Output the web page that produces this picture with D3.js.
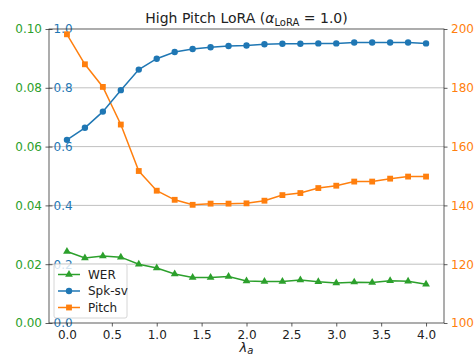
<html>
<head>
<script src="https://d3js.org/d3.v7.min.js"></script>
<style>
    body { margin: 0; background: white; }
    svg { font-family: "DejaVu Sans", sans-serif; }
</style>
</head>
<body>
<svg id='the-chart' width=476 height=356></svg>
<script>

    var lambdas = [0.0, 0.2, 0.4, 0.6, 0.8, 1.0, 1.2, 1.4, 1.6, 1.8, 2.0, 2.2, 2.4, 2.6, 2.8, 3.0, 3.2, 3.4, 3.6, 3.8, 4.0];
    var wer = [0.0243, 0.0221, 0.0228, 0.0224, 0.0200, 0.0187, 0.0167, 0.0155, 0.0155, 0.0158, 0.0143,
               0.0141, 0.0141, 0.0146, 0.0140, 0.0136, 0.0139, 0.0138, 0.0144, 0.0142, 0.0132];
    var spk = [0.623, 0.664, 0.719, 0.792, 0.862, 0.899, 0.922, 0.932, 0.938, 0.942, 0.944,
               0.948, 0.950, 0.950, 0.951, 0.951, 0.954, 0.954, 0.954, 0.954, 0.951];
    var pitch = [198.2, 188.0, 180.3, 167.5, 151.7, 145.0, 141.9, 140.2, 140.6, 140.6, 140.7,
                 141.6, 143.5, 144.2, 145.9, 146.7, 148.1, 148.1, 149.1, 149.8, 149.8];
    var xTicks = [0.0, 0.5, 1.0, 1.5, 2.0, 2.5, 3.0, 3.5, 4.0];
    var werTicks = [0.00, 0.02, 0.04, 0.06, 0.08, 0.10];
    var spkTicks = [0.0, 0.2, 0.4, 0.6, 0.8, 1.0];
    var pitchTicks = [100, 120, 140, 160, 180, 200];

    var green = '#2ca02c', blue = '#1f77b4', orange = '#ff7f0e';

    var svg = d3.select('#the-chart');
    var margin = { top: 29, left: 49, right: 32, bottom: 33 };
    var width = +svg.attr('width') - margin.left - margin.right;
    var height = +svg.attr('height') - margin.top - margin.bottom;
    var g = svg.append('g')
        .attr('transform', 'translate(' + margin.left + ',' + margin.top + ')');

    var x = d3.scaleLinear().domain([-0.2, 4.2]).range([0, width]);
    var yW = d3.scaleLinear().domain([0, 0.1]).range([height, 0]);
    var yS = d3.scaleLinear().domain([0, 1]).range([height, 0]);
    var yP = d3.scaleLinear().domain([100, 200]).range([height, 0]);

    // grid
    g.append('g').selectAll('line')
        .data(werTicks.slice(1, -1))
        .enter().append('line')
        .attr('x1', 0).attr('x2', width)
        .attr('y1', function(d) { return yW(d); })
        .attr('y2', function(d) { return yW(d); })
        .attr('stroke', '#b0b0b0').attr('stroke-width', 0.8);

    function styleAxis(sel, color) {
        sel.select('.domain').remove();
        sel.selectAll('line').attr('stroke', '#333').attr('stroke-width', 0.8);
        sel.selectAll('text').attr('fill', color).style('font-size', '12px').style('font-family', '"DejaVu Sans", sans-serif');
    }

    var xa = g.append('g').attr('transform', 'translate(0,' + height + ')')
        .call(d3.axisBottom(x).tickValues(xTicks).tickFormat(d3.format('.1f')).tickSize(3.5).tickPadding(3.5));
    styleAxis(xa, '#222');

    var la = g.append('g')
        .call(d3.axisLeft(yW).tickValues(werTicks).tickFormat(d3.format('.2f')).tickSize(3.5).tickPadding(3.5));
    styleAxis(la, green);

    var sa = g.append('g')
        .call(d3.axisRight(yS).tickValues(spkTicks).tickFormat(d3.format('.1f')).tickSize(3.5).tickPadding(1));
    styleAxis(sa, blue);

    var ra = g.append('g').attr('transform', 'translate(' + width + ',0)')
        .call(d3.axisRight(yP).tickValues(pitchTicks).tickFormat(d3.format('d')).tickSize(3.5).tickPadding(3.5));
    styleAxis(ra, orange);

    // frame
    g.append('rect').attr('width', width).attr('height', height)
        .attr('fill', 'none').attr('stroke', '#333').attr('stroke-width', 0.8);

    function drawSeries(vals, scale, color, shape) {
        var line = d3.line()
            .x(function(d, i) { return x(lambdas[i]); })
            .y(function(d) { return scale(d); });
        g.append('path').datum(vals)
            .attr('d', line)
            .attr('fill', 'none').attr('stroke', color).attr('stroke-width', 1.5);
        g.append('g').selectAll('path')
            .data(vals)
            .enter().append('path')
            .attr('transform', function(d, i) { return 'translate(' + x(lambdas[i]) + ',' + scale(d) + ')'; })
            .attr('d', d3.symbol().type(shape).size(shape === d3.symbolSquare ? 34 : (shape === d3.symbolTriangle ? 26 : 32)))
            .attr('fill', color);
    }

    drawSeries(pitch, yP, orange, d3.symbolSquare);
    drawSeries(spk, yS, blue, d3.symbolCircle);
    drawSeries(wer, yW, green, d3.symbolTriangle);

    // legend
    var legendItems = [
        { name: 'WER', color: green, shape: d3.symbolTriangle },
        { name: 'Spk-sv', color: blue, shape: d3.symbolCircle },
        { name: 'Pitch', color: orange, shape: d3.symbolSquare }
    ];
    var lg = g.append('g').attr('transform', 'translate(5,' + (height - 59) + ')');
    lg.append('rect').attr('width', 73).attr('height', 54).attr('rx', 2)
        .attr('fill', 'white').attr('fill-opacity', 0.8)
        .attr('stroke', '#ccc').attr('stroke-width', 0.8);
    legendItems.forEach(function(d, i) {
        var yy = 10.5 + i * 16.5;
        lg.append('line').attr('x1', 4).attr('x2', 26).attr('y1', yy).attr('y2', yy)
            .attr('stroke', d.color).attr('stroke-width', 1.5);
        lg.append('path').attr('transform', 'translate(15,' + yy + ')')
            .attr('d', d3.symbol().type(d.shape).size(d.shape === d3.symbolSquare ? 34 : (d.shape === d3.symbolTriangle ? 26 : 32)))
            .attr('fill', d.color);
        lg.append('text').attr('x', 34).attr('y', yy).attr('dy', '0.35em')
            .style('font-size', '12px').attr('fill', '#222').text(d.name);
    });

    // title
    var title = svg.append('text')
        .attr('x', margin.left + width / 2).attr('y', 23)
        .attr('text-anchor', 'middle').style('font-size', '14px').attr('fill', '#222');
    title.append('tspan').text('High Pitch LoRA (');
    title.append('tspan').style('font-style', 'italic').text('α');
    title.append('tspan').attr('dy', 3).style('font-size', '10px').text('LoRA');
    title.append('tspan').attr('dy', -3).text(' = 1.0)');

    // x label
    var xl = svg.append('text')
        .attr('x', margin.left + width / 2).attr('y', 352)
        .attr('text-anchor', 'middle').style('font-size', '13px').attr('fill', '#222');
    xl.append('tspan').style('font-style', 'italic').text('λ');
    xl.append('tspan').attr('dy', 2).style('font-size', '10px').style('font-style', 'italic').text('a');

</script>
</body>
</html>
